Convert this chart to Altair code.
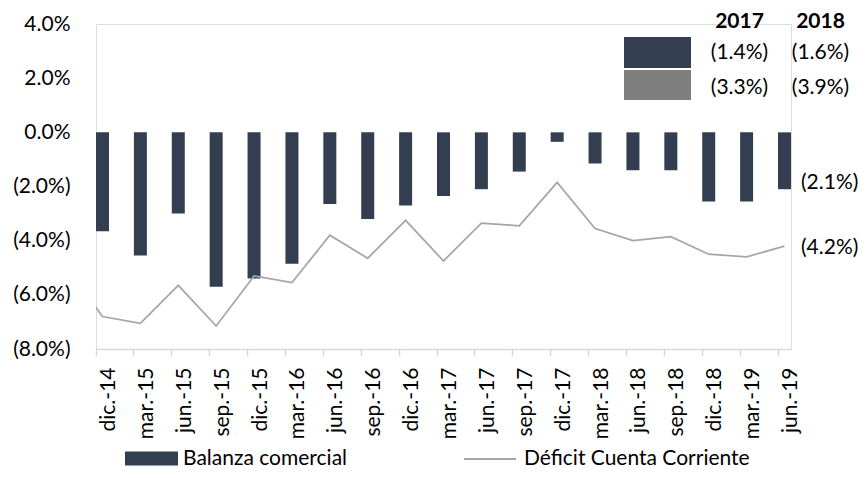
import altair as alt
import pandas as pd

# ---------------- data ----------------
categories = ["dic.-14", "mar.-15", "jun.-15", "sep.-15", "dic.-15", "mar.-16",
              "jun.-16", "sep.-16", "dic.-16", "mar.-17", "jun.-17", "sep.-17",
              "dic.-17", "mar.-18", "jun.-18", "sep.-18", "dic.-18", "mar.-19",
              "jun.-19"]
balanza = [-3.65, -4.55, -3.0, -5.7, -5.4, -4.85, -2.65, -3.2, -2.7, -2.35,
           -2.1, -1.45, -0.35, -1.15, -1.4, -1.4, -2.55, -2.55, -2.1]
deficit = [-6.8, -7.05, -5.65, -7.15, -5.3, -5.55, -3.8, -4.65, -3.25, -4.75,
           -3.35, -3.45, -1.85, -3.55, -4.0, -3.85, -4.5, -4.6, -4.2]
deficit_prev = -4.85          # sep.-14, only its segment edge is visible
series_names = ["Balanza comercial", "Déficit Cuenta Corriente"]
table_years = ["2017", "2018"]
table_balanza = ["(1.4%)", "(1.6%)"]
table_deficit = ["(3.3%)", "(3.9%)"]

# ---------------- style ----------------
FONT = "Lato"
FS = 21
DARK = "#333f50"
GRAY_BOX = "#7f7f7f"
LINE = "#a6a6a6"
AXIS = "#d9d9d9"
W, H = 695, 325
P_INNER = 0.657
LEG_Y = 408

def paren(v):
    return f"({abs(v):.1f}%)" if v < 0 else f"{v:.1f}%"

bar_df = pd.DataFrame({"cat": categories, "value": balanza,
                       "serie": series_names[0],
                       "label": [paren(v) for v in balanza]})
line_df = pd.DataFrame({"idx": list(range(-1, len(deficit))),
                        "value": [deficit_prev] + deficit,
                        "serie": series_names[1],
                        "label": [paren(v) for v in [deficit_prev] + deficit]})

half = (1 - P_INNER) / 2
x_band = alt.Scale(domain=categories, paddingInner=P_INNER, paddingOuter=0)
x_q = alt.Scale(domain=[-half, len(categories) - 1 + half], nice=False, zero=False)
y_scale = alt.Scale(domain=[-8, 4], nice=False, zero=False)

y_axis = alt.Axis(
    values=[-8, -6, -4, -2, 0, 2, 4], title=None, domain=False, ticks=False,
    tickSize=0, grid=False, labelPadding=26, labelFont=FONT, labelFontSize=FS,
    labelColor="#000000",
    labelExpr="datum.value < 0 ? '(' + format(-datum.value, '.1f') + '%)' : format(datum.value, '.1f') + '%'")
x_axis = alt.Axis(
    title=None, labelAngle=-90, bandPosition=0, labelOffset=6.5,
    domainColor=AXIS, domainWidth=1.5, tickColor=AXIS, tickWidth=1.5,
    tickSize=7, labelPadding=11, labelFont=FONT, labelFontSize=FS,
    labelColor="#000000", grid=False)

bars = alt.Chart(bar_df).mark_bar().encode(
    x=alt.X("cat:N", scale=x_band, axis=x_axis, sort=None),
    y=alt.Y("value:Q", scale=y_scale, axis=y_axis),
    y2=alt.datum(0),
    color=alt.Color("serie:N", scale=alt.Scale(range=[DARK]),
                    legend=alt.Legend(orient="none", legendX=29, legendY=LEG_Y,
                                      title=None, labelLimit=0,
                                      symbolType="M-1,-0.264H1V0.264H-1Z",
                                      symbolSize=2809, symbolStrokeWidth=0,
                                      labelFont=FONT, labelFontSize=FS,
                                      labelColor="#000000", labelOffset=5)),
)
bar_label = alt.Chart(bar_df.tail(1)).mark_text(
    align="left", baseline="middle", dx=16.5, dy=-6, font=FONT, fontSize=FS,
    color="#000000").encode(
    x=alt.X("cat:N", scale=x_band, axis=x_axis, sort=None),
    y=alt.Y("value:Q", scale=y_scale, axis=y_axis),
    text="label:N")
bar_group = alt.layer(bars, bar_label)

line = alt.Chart(line_df).mark_line(clip=True, strokeWidth=1.75).encode(
    x=alt.X("idx:Q", scale=x_q, axis=None),
    y=alt.Y("value:Q", scale=y_scale, axis=y_axis),
    stroke=alt.Stroke("serie:N", scale=alt.Scale(range=[LINE]),
                      legend=alt.Legend(orient="none", legendX=367, legendY=LEG_Y,
                                        title=None, labelLimit=0,
                                        symbolType="M-1,0H1",
                                        symbolSize=2704, symbolStrokeWidth=2,
                                        labelFont=FONT, labelFontSize=FS,
                                        labelColor="#000000", labelOffset=7)),
)
line_label = alt.Chart(line_df.tail(1)).mark_text(
    align="left", baseline="middle", dx=16.5, dy=2, font=FONT, fontSize=FS,
    color="#000000").encode(
    x=alt.X("idx:Q", scale=x_q, axis=None),
    y=alt.Y("value:Q", scale=y_scale, axis=y_axis),
    text="label:N")
line_group = alt.layer(line, line_label)

# ---------------- summary table (top right) ----------------
one = pd.DataFrame({"k": [0]})
col_x = [643.5, 724.5]
table_layers = []
for i, yr in enumerate(table_years):
    table_layers.append(alt.Chart(one).mark_text(
        text=yr, font=FONT, fontSize=FS, fontWeight="bold", color="#000000",
        align="center", baseline="middle").encode(x=alt.value(col_x[i]), y=alt.value(-2)))
    table_layers.append(alt.Chart(one).mark_text(
        text=table_balanza[i], font=FONT, fontSize=FS, color="#000000",
        align="center", baseline="middle").encode(x=alt.value(col_x[i]), y=alt.value(29)))
    table_layers.append(alt.Chart(one).mark_text(
        text=table_deficit[i], font=FONT, fontSize=FS, color="#000000",
        align="center", baseline="middle").encode(x=alt.value(col_x[i]), y=alt.value(64)))
table_layers.append(alt.Chart(one).mark_rect(color=DARK).encode(
    x=alt.value(528), x2=alt.value(595), y=alt.value(13), y2=alt.value(44)))
table_layers.append(alt.Chart(one).mark_rect(color=GRAY_BOX).encode(
    x=alt.value(528), x2=alt.value(595), y=alt.value(46), y2=alt.value(76)))

chart = alt.layer(bar_group, line_group, *table_layers).resolve_scale(
    x="independent").properties(
    width=W, height=H,
    autosize=alt.AutoSizeParams(type="none"),
    padding={"left": 88, "top": 16, "right": 68, "bottom": 121},
).configure_view(stroke=None).configure(font=FONT)

chart.save("out.html", embed_options={"renderer": "svg", "actions": False})
